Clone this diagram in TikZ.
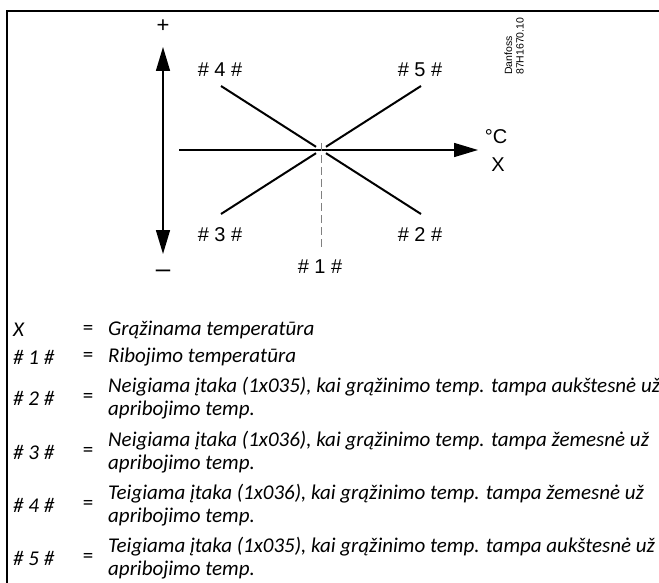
\documentclass[tikz,border=0pt]{standalone}
\usepackage{fontspec}
\setmainfont{Liberation Sans}
\newfontfamily\legfamily{Carlito}
\usetikzlibrary{arrows.meta}

\begin{document}
\begin{tikzpicture}[x=1pt, y=-1pt, >={Triangle[length=24pt, width=14pt]},
  lbl/.style={font=\fontsize{20}{22}\selectfont, inner sep=0},
  curve/.style={line width=2pt},
  axis/.style={line width=1.6pt},
  legkey/.style={anchor=west, inner sep=0, font=\legfamily\itshape\fontsize{21}{23}\selectfont},
  legeq/.style={inner sep=0, font=\legfamily\fontsize{21}{23}\selectfont},
  legtxt/.style={anchor=west, align=left, inner sep=0, font=\legfamily\itshape\fontsize{21}{23}\selectfont}]
  \useasboundingbox (0,0) rectangle (659,583);
  \draw[line width=2pt] (7,583) -- (7,11) -- (659,11);
  % axes
  \node[inner sep=0, font=\fontsize{22}{22}\selectfont] (plus) at (163,26) {+};
  \node[inner sep=0, font=\fontsize{26}{26}\selectfont] (minus) at (163,274) {\textendash};
  \coordinate (vtop) at (163,47); \coordinate (vbot) at (163,254);
  \draw[axis, <->] (vtop) -- (vbot);
  \coordinate (hbeg) at (179,150); \coordinate (hend) at (478,150);
  \draw[axis, ->] (hbeg) -- (hend);
  \node[lbl] (degc) at (496,137) {°C};
  \node[lbl] (xax) at (498,165) {X};
  \node[lbl, rotate=90, anchor=west, align=left, font=\fontsize{10.5}{11.5}\selectfont] (stamp) at (514,75) {Danfoss\\87H1670.10};
  % curves
  \coordinate (o) at (321,150);
  \draw[curve] (221,86) -- (316,146.8);
  \draw[curve] (421,86) -- (326,146.8);
  \draw[curve] (221,214) -- (316,153.2);
  \draw[curve] (421,214) -- (326,153.2);
  \draw[gray, line width=0.9pt, dash pattern=on 8pt off 4pt] (321,143) -- (321,248);
  \node[lbl] (c4) at (220,70) {\# 4 \#};
  \node[lbl] (c5) at (420,70) {\# 5 \#};
  \node[lbl] (c3) at (220,235) {\# 3 \#};
  \node[lbl] (c2) at (420,235) {\# 2 \#};
  \node[lbl] (c1) at (320,267) {\# 1 \#};
  % legend
  \node[legkey] (kx) at (13,330) {X};
  \node[legeq] at (88,330) {=};
  \node[legtxt] (tx) at (108,330) {Grąžinama temperatūra};
  \node[legkey] (k1) at (13,357) {\# 1 \#};
  \node[legeq] at (88,357) {=};
  \node[legtxt] (t1) at (108,357) {Ribojimo temperatūra};
  \node[legkey] (k2) at (13,398) {\# 2 \#};
  \node[legeq] at (88,398) {=};
  \node[legtxt] (t2) at (108,398) {Neigiama įtaka (1x035), kai grąžinimo temp. tampa aukštesnė už\\apribojimo temp.};
  \node[legkey] (k3) at (13,452) {\# 3 \#};
  \node[legeq] at (88,452) {=};
  \node[legtxt] (t3) at (108,452) {Neigiama įtaka (1x036), kai grąžinimo temp. tampa žemesnė už\\apribojimo temp.};
  \node[legkey] (k4) at (13,505) {\# 4 \#};
  \node[legeq] at (88,505) {=};
  \node[legtxt] (t4) at (108,505) {Teigiama įtaka (1x036), kai grąžinimo temp. tampa žemesnė už\\apribojimo temp.};
  \node[legkey] (k5) at (13,558) {\# 5 \#};
  \node[legeq] at (88,558) {=};
  \node[legtxt] (t5) at (108,558) {Teigiama įtaka (1x035), kai grąžinimo temp. tampa aukštesnė už\\apribojimo temp.};
\end{tikzpicture}
\end{document}
